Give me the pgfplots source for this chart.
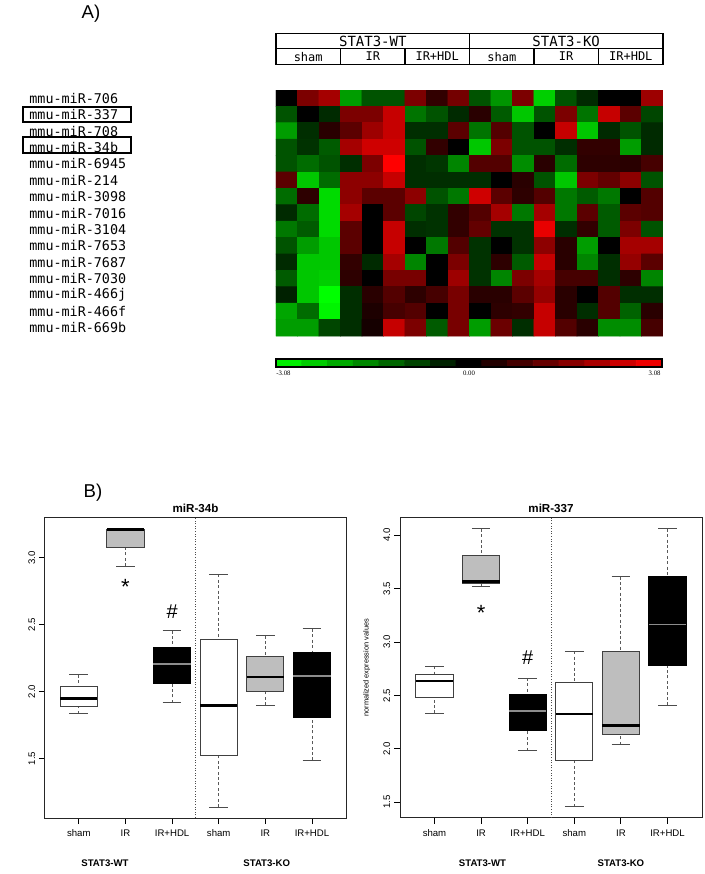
\documentclass[border=0pt]{standalone}
\usepackage{pgfplots}
\pgfplotsset{compat=1.18}
\usepgfplotslibrary{statistics}
\usepackage{fontspec}
\setmainfont{Liberation Sans}
\newfontfamily\monofont{DejaVu Sans Mono}
\newfontfamily\seriffont{Liberation Serif}
\definecolor{rgray}{RGB}{190,190,190}
\tikzset{whisk/.style={black!65, line width=0.45pt, dash pattern=on 1.5pt off 1.2pt},
         wcap/.style={black!70, line width=0.45pt, solid}}
\pgfplotsset{
  colormap={gbr}{rgb255=(0,255,0) rgb255=(0,0,0) rgb255=(255,0,0)},
  boxplot/draw/lower whisker/.code={%
    \draw[whisk] (boxplot box cs:\pgfplotsboxplotvalue{lower whisker},0.5) -- (boxplot box cs:\pgfplotsboxplotvalue{lower quartile},0.5);
    \draw[wcap] (boxplot whisker cs:\pgfplotsboxplotvalue{lower whisker},0) -- (boxplot whisker cs:\pgfplotsboxplotvalue{lower whisker},1);
  },
  boxplot/draw/upper whisker/.code={%
    \draw[whisk] (boxplot box cs:\pgfplotsboxplotvalue{upper whisker},0.5) -- (boxplot box cs:\pgfplotsboxplotvalue{upper quartile},0.5);
    \draw[wcap] (boxplot whisker cs:\pgfplotsboxplotvalue{upper whisker},0) -- (boxplot whisker cs:\pgfplotsboxplotvalue{upper whisker},1);
  },
  wbox/.style={draw=black!75, line width=0.5pt, boxplot/every box/.style={fill=white, draw=black!75, line width=0.5pt}, boxplot/every median/.style={draw=black, line width=1.3pt}},
  gbox/.style={draw=black!75, line width=0.5pt, boxplot/every box/.style={fill=rgray, draw=black!75, line width=0.5pt}, boxplot/every median/.style={draw=black, line width=1.3pt}},
  kbox/.style={draw=black, line width=0.5pt, boxplot/every box/.style={fill=black, draw=black, line width=0.5pt}, boxplot/every median/.style={draw=black!45, line width=0.8pt}},
  bpaxis/.style={
    scale only axis, anchor=north west, clip=false,
    xmin=0.275, xmax=6.73,
    xtick={1,2,3,4,5,6},
    xticklabels={sham,IR,IR+HDL,sham,IR,IR+HDL},
    xtick pos=bottom, ytick pos=left,
    tick align=outside, major tick length=3pt,
    tick style={black, line width=0.45pt},
    axis line style={black!85, line width=0.5pt},
    ticklabel style={font=\fontsize{4.8}{5.5}\selectfont},
    xticklabel style={anchor=center}, xticklabel shift=4.5pt,
    yticklabel style={rotate=90, anchor=center}, yticklabel shift=3.6pt,
    title style={font=\bfseries\fontsize{5.8}{7}\selectfont, at={(0.5,1)}, anchor=center, yshift=-1.3pt},
    boxplot/draw direction=y,
  },
}
\newcommand\bx[7]{\addplot[#7, boxplot prepared={draw position=#1, lower whisker=#2, lower quartile=#3, median=#4, upper quartile=#5, upper whisker=#6, box extend=0.8, whisker extend=0.4}] coordinates {};}

\begin{document}
\begin{tikzpicture}
\useasboundingbox (0,0) rectangle (352.5pt,-437pt);

% panel labels
\node[font=\fontsize{9.3}{11}\selectfont] at (45.5pt,-6.6pt) {A)};
\node[font=\fontsize{9.3}{11}\selectfont] at (46.5pt,-246.5pt) {B)};

% header table
\draw[line width=0.75pt] (138pt,-16.67pt) rectangle (331.5pt,-32.17pt);
\draw[line width=0.75pt] (138pt,-24.17pt) -- (331.5pt,-24.17pt);
\draw[line width=0.75pt] (234.75pt,-16.67pt) -- (234.75pt,-32.17pt);
\foreach \xx in {170.25,202.5,267,299.25} \draw[line width=0.75pt] (\xx pt,-24.17pt) -- (\xx pt,-32.17pt);
\node[font=\monofont\fontsize{7}{8}\selectfont] at (186.4pt,-20.5pt) {STAT3-WT};
\node[font=\monofont\fontsize{7}{8}\selectfont] at (283.1pt,-20.5pt) {STAT3-KO};
\foreach \xx/\tt in {154.1/sham,186.4/IR,218.6/IR+HDL,250.9/sham,283.1/IR,315.4/IR+HDL}
  \node[font=\monofont\fontsize{6}{7}\selectfont] at (\xx pt,-28.3pt) {\tt};

% heatmap
\begin{axis}[
  at={(138pt,-45pt)}, anchor=north west, scale only axis,
  width=193.5pt, height=123pt,
  xmin=0.5, xmax=18.5, ymin=0.5, ymax=15.5, y dir=reverse,
  axis line style={draw=none}, xtick=\empty,
  ytick={1,...,15},
  yticklabels={mmu-miR-706,mmu-miR-337,mmu-miR-708,mmu-miR-34b,mmu-miR-6945,mmu-miR-214,mmu-miR-3098,mmu-miR-7016,mmu-miR-3104,mmu-miR-7653,mmu-miR-7687,mmu-miR-7030,mmu-miR-466j,mmu-miR-466f,mmu-miR-669b},
  major tick length=0pt, tick style={draw=none},
  yticklabel style={anchor=west, inner sep=0pt, xshift=-123.5pt, font=\monofont\fontsize{6.7}{8}\selectfont},
  colormap name=gbr, point meta min=-3.08, point meta max=3.08,
]
\addplot[matrix plot*, mesh/cols=18, mesh/rows=15, point meta=explicit] table[meta=c, row sep=\\] {
x y c\\
1 1 0\\ 2 1 1.5\\ 3 1 2.0\\ 4 1 -1.9\\ 5 1 -1.0\\ 6 1 -1.0\\ 7 1 1.5\\ 8 1 0.6\\ 9 1 1.4\\ 10 1 -1.0\\ 11 1 -1.8\\ 12 1 1.5\\ 13 1 -2.5\\ 14 1 -1.0\\ 15 1 -0.5\\ 16 1 0\\ 17 1 0\\ 18 1 1.9\\
1 2 -1.0\\ 2 2 0\\ 3 2 -0.5\\ 4 2 1.5\\ 5 2 1.5\\ 6 2 2.4\\ 7 2 -1.4\\ 8 2 -1.0\\ 9 2 -0.5\\ 10 2 0.5\\ 11 2 -1.1\\ 12 2 -2.4\\ 13 2 -1.0\\ 14 2 1.5\\ 15 2 -1.4\\ 16 2 2.4\\ 17 2 1.1\\ 18 2 -0.85\\
1 3 -1.9\\ 2 3 -0.55\\ 3 3 0.5\\ 4 3 1.1\\ 5 3 1.9\\ 6 3 2.4\\ 7 3 -0.55\\ 8 3 -0.55\\ 9 3 1.1\\ 10 3 -1.4\\ 11 3 1.0\\ 12 3 -1.0\\ 13 3 0\\ 14 3 2.4\\ 15 3 -2.4\\ 16 3 -0.5\\ 17 3 -1.0\\ 18 3 -0.5\\
1 4 -1.0\\ 2 4 -0.6\\ 3 4 -1.1\\ 4 4 2.0\\ 5 4 2.5\\ 6 4 2.5\\ 7 4 -1.0\\ 8 4 0.6\\ 9 4 0\\ 10 4 -2.4\\ 11 4 1.5\\ 12 4 -1.0\\ 13 4 -1.0\\ 14 4 -0.55\\ 15 4 0.6\\ 16 4 0.6\\ 17 4 -1.9\\ 18 4 -0.5\\
1 5 -1.0\\ 2 5 -1.3\\ 3 5 -1.0\\ 4 5 -0.55\\ 5 5 1.5\\ 6 5 3.08\\ 7 5 -0.55\\ 8 5 -0.65\\ 9 5 -1.6\\ 10 5 1.0\\ 11 5 1.0\\ 12 5 -1.7\\ 13 5 0.5\\ 14 5 -1.3\\ 15 5 0.55\\ 16 5 0.55\\ 17 5 0.5\\ 18 5 0.85\\
1 6 1.1\\ 2 6 -2.4\\ 3 6 -1.3\\ 4 6 1.7\\ 5 6 1.7\\ 6 6 2.4\\ 7 6 -0.55\\ 8 6 -0.55\\ 9 6 -0.55\\ 10 6 -0.55\\ 11 6 0\\ 12 6 0.5\\ 13 6 -1.0\\ 14 6 -2.4\\ 15 6 1.5\\ 16 6 1.2\\ 17 6 1.7\\ 18 6 -1.0\\
1 7 -1.3\\ 2 7 0.55\\ 3 7 -2.65\\ 4 7 1.7\\ 5 7 1.1\\ 6 7 1.1\\ 7 7 1.7\\ 8 7 -1.0\\ 9 7 -1.45\\ 10 7 2.5\\ 11 7 1.1\\ 12 7 0.55\\ 13 7 1.0\\ 14 7 -1.45\\ 15 7 -1.1\\ 16 7 -1.45\\ 17 7 0\\ 18 7 1.0\\
1 8 -0.5\\ 2 8 -1.3\\ 3 8 -2.65\\ 4 8 2.0\\ 5 8 0\\ 6 8 1.1\\ 7 8 -0.85\\ 8 8 -0.6\\ 9 8 0.6\\ 10 8 1.0\\ 11 8 2.0\\ 12 8 -1.45\\ 13 8 2.0\\ 14 8 -1.45\\ 15 8 1.1\\ 16 8 -1.1\\ 17 8 1.1\\ 18 8 1.0\\
1 9 -1.45\\ 2 9 -1.1\\ 3 9 -2.65\\ 4 9 1.1\\ 5 9 0\\ 6 9 2.4\\ 7 9 -0.55\\ 8 9 -0.6\\ 9 9 0.6\\ 10 9 1.2\\ 11 9 -0.6\\ 12 9 -0.6\\ 13 9 2.8\\ 14 9 -0.55\\ 15 9 0.6\\ 16 9 -1.1\\ 17 9 1.5\\ 18 9 -1.0\\
1 10 -1.0\\ 2 10 -1.9\\ 3 10 -2.4\\ 4 10 1.1\\ 5 10 0\\ 6 10 2.4\\ 7 10 0\\ 8 10 -1.45\\ 9 10 1.0\\ 10 10 -0.6\\ 11 10 0\\ 12 10 -0.6\\ 13 10 1.7\\ 14 10 0.5\\ 15 10 -1.9\\ 16 10 0\\ 17 10 2.0\\ 18 10 2.0\\
1 11 -0.5\\ 2 11 -2.4\\ 3 11 -2.4\\ 4 11 0.6\\ 5 11 -0.5\\ 6 11 2.0\\ 7 11 -1.6\\ 8 11 0\\ 9 11 1.5\\ 10 11 -0.6\\ 11 11 0.55\\ 12 11 -1.1\\ 13 11 2.4\\ 14 11 0.5\\ 15 11 -1.6\\ 16 11 -0.55\\ 17 11 1.8\\ 18 11 1.1\\
1 12 -1.1\\ 2 12 -2.4\\ 3 12 -2.5\\ 4 12 0.55\\ 5 12 0\\ 6 12 1.45\\ 7 12 1.45\\ 8 12 0\\ 9 12 1.9\\ 10 12 -0.6\\ 11 12 -1.6\\ 12 12 1.5\\ 13 12 2.0\\ 14 12 0.85\\ 15 12 0.85\\ 16 12 -0.55\\ 17 12 0.55\\ 18 12 -1.6\\
1 13 -0.4\\ 2 13 -2.4\\ 3 13 -3.08\\ 4 13 -0.55\\ 5 13 0.5\\ 6 13 1.0\\ 7 13 0.55\\ 8 13 0.85\\ 9 13 1.45\\ 10 13 0.5\\ 11 13 0.5\\ 12 13 1.1\\ 13 13 1.8\\ 14 13 0.5\\ 15 13 0\\ 16 13 1.0\\ 17 13 -0.55\\ 18 13 -0.55\\
1 14 -2.0\\ 2 14 -1.3\\ 3 14 -2.95\\ 4 14 -0.55\\ 5 14 0.35\\ 6 14 0.85\\ 7 14 1.0\\ 8 14 0\\ 9 14 1.45\\ 10 14 0\\ 11 14 0.55\\ 12 14 0.6\\ 13 14 2.4\\ 14 14 0.5\\ 15 14 -0.55\\ 16 14 1.0\\ 17 14 -1.2\\ 18 14 0.5\\
1 15 -1.9\\ 2 15 -1.9\\ 3 15 -0.85\\ 4 15 -0.55\\ 5 15 0.25\\ 6 15 2.4\\ 7 15 1.5\\ 8 15 -1.1\\ 9 15 1.45\\ 10 15 -1.9\\ 11 15 1.3\\ 12 15 -0.55\\ 13 15 2.4\\ 14 15 1.0\\ 15 15 0.5\\ 16 15 -1.7\\ 17 15 -1.7\\ 18 15 0.85\\
};
\end{axis}
% boxes around highlighted labels
\draw[line width=1pt] (11.5pt,-53.3pt) rectangle (65.5pt,-60.9pt);
\draw[line width=1pt] (11.5pt,-68.6pt) rectangle (65.5pt,-76.6pt);

% colour key
\begin{axis}[
  at={(138pt,-179.5pt)}, anchor=north west, scale only axis,
  width=193pt, height=4pt,
  xmin=-3.08, xmax=3.08, ymin=-0.5, ymax=1.5,
  ticks=none, axis on top, axis line style={black, line width=0.6pt},
  colormap name=gbr, point meta min=-3.08, point meta max=3.08,
]
\addplot[matrix plot*, mesh/cols=15, mesh/rows=2, point meta=explicit] table[meta=c, row sep=\\] {
x y c\\
-2.875 0 -2.875\\ -2.464 0 -2.464\\ -2.053 0 -2.053\\ -1.643 0 -1.643\\ -1.232 0 -1.232\\ -0.821 0 -0.821\\ -0.411 0 -0.411\\ 0 0 0\\ 0.411 0 0.411\\ 0.821 0 0.821\\ 1.232 0 1.232\\ 1.643 0 1.643\\ 2.053 0 2.053\\ 2.464 0 2.464\\ 2.875 0 2.875\\
-2.875 1 -2.875\\ -2.464 1 -2.464\\ -2.053 1 -2.053\\ -1.643 1 -1.643\\ -1.232 1 -1.232\\ -0.821 1 -0.821\\ -0.411 1 -0.411\\ 0 1 0\\ 0.411 1 0.411\\ 0.821 1 0.821\\ 1.232 1 1.232\\ 1.643 1 1.643\\ 2.053 1 2.053\\ 2.464 1 2.464\\ 2.875 1 2.875\\
};
\end{axis}
\node[anchor=west, inner sep=0pt, font=\seriffont\fontsize{3.4}{4}\selectfont] at (138pt,-186.7pt) {-3.08};
\node[inner sep=0pt, font=\seriffont\fontsize{3.4}{4}\selectfont] at (234.5pt,-186.7pt) {0.00};
\node[anchor=east, inner sep=0pt, font=\seriffont\fontsize{3.4}{4}\selectfont] at (330.5pt,-186.7pt) {3.08};

% boxplot miR-34b
\begin{axis}[bpaxis, at={(22.5pt,-258.75pt)}, width=150.5pt, height=150.25pt,
  ymin=1.055, ymax=3.30, ytick={1.5,2,2.5,3}, yticklabels={1.5,2.0,2.5,3.0},
  title={miR-34b}]
\addplot[black!70, line width=0.4pt, dash pattern=on 0.5pt off 0.8pt] coordinates {(3.5,1.055) (3.5,3.30)};
\bx{1}{1.835}{1.89}{1.95}{2.0375}{2.125}{wbox}
\bx{2}{2.9375}{3.075}{3.21}{3.2125}{3.2125}{gbox}
\bx{3}{1.915}{2.06}{2.205}{2.33}{2.455}{kbox}
\bx{4}{1.1375}{1.52}{1.8975}{2.3875}{2.875}{wbox}
\bx{5}{1.8975}{2.0}{2.1075}{2.26}{2.4175}{gbox}
\bx{6}{1.485}{1.805}{2.115}{2.2925}{2.4675}{kbox}
\node[font=\fontsize{11}{12}\selectfont] at ([yshift=-2pt]axis cs:2,2.81) {*};
\node[font=\fontsize{10}{12}\selectfont] at (axis cs:3,2.60) {\#};
\node[font=\bfseries\fontsize{4.8}{5.5}\selectfont] at ([yshift=-22.5pt]axis cs:1.56,1.055) {STAT3-WT};
\node[font=\bfseries\fontsize{4.8}{5.5}\selectfont] at ([yshift=-22.5pt]axis cs:5.03,1.055) {STAT3-KO};
\end{axis}

% boxplot miR-337
\begin{axis}[bpaxis, at={(200pt,-258.85pt)}, width=151pt, height=150pt,
  xmin=0.26, xmax=6.74,
  ymin=1.355, ymax=4.163, ytick={1.5,2,2.5,3,3.5,4}, yticklabels={1.5,2.0,2.5,3.0,3.5,4.0},
  title={miR-337}]
\addplot[black!70, line width=0.4pt, dash pattern=on 0.5pt off 0.8pt] coordinates {(3.5,1.355) (3.5,4.163)};
\bx{1}{2.331}{2.484}{2.634}{2.70}{2.772}{wbox}
\bx{2}{3.519}{3.547}{3.566}{3.8125}{4.059}{gbox}
\bx{3}{1.984}{2.169}{2.353}{2.506}{2.6625}{kbox}
\bx{4}{1.459}{1.89}{2.325}{2.616}{2.9125}{wbox}
\bx{5}{2.0375}{2.131}{2.216}{2.9125}{3.6125}{gbox}
\bx{6}{2.406}{2.784}{3.1625}{3.609}{4.059}{kbox}
\node[font=\fontsize{11}{12}\selectfont] at ([yshift=-2pt]axis cs:2,3.31) {*};
\node[font=\fontsize{10}{12}\selectfont] at (axis cs:3,2.856) {\#};
\node[font=\bfseries\fontsize{4.8}{5.5}\selectfont] at ([yshift=-22.5pt]axis cs:2.03,1.355) {STAT3-WT};
\node[font=\bfseries\fontsize{4.8}{5.5}\selectfont] at ([yshift=-22.5pt]axis cs:5.0,1.355) {STAT3-KO};
\node[rotate=90, font=\fontsize{3.7}{4.5}\selectfont] at ([xshift=-16.65pt]rel axis cs:0,0.5) {normalized expression values};
\end{axis}
\end{tikzpicture}
\end{document}
